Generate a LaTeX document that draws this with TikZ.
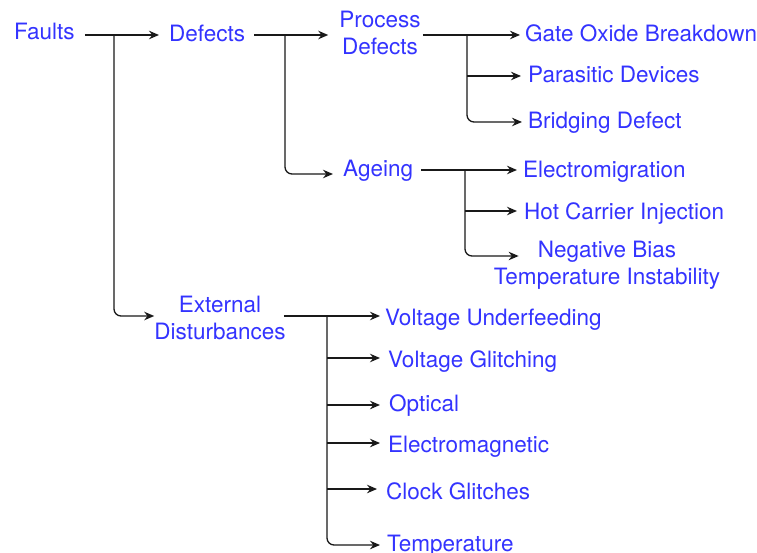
\documentclass[tikz,border=0pt]{standalone}
\usepackage{fontspec}
\setmainfont{TeX Gyre Heros}
\usetikzlibrary{arrows.meta}
\definecolor{labelblue}{RGB}{51,51,255}
\definecolor{wire}{RGB}{25,25,25}
\begin{document}
\begin{tikzpicture}[x=1pt,y=-1pt,
  lbl/.style={text=labelblue, font=\fontsize{22.5}{27}\selectfont, inner sep=0pt, anchor=base west},
  lbl2/.style={lbl, align=center, anchor=base},
  link/.style={draw=wire, line width=1.3pt, -{Stealth[length=10pt,width=8.5pt]}, shorten <=8pt, shorten >=6pt},
  branch/.style={link, shorten <=0pt},
  trunk/.style={branch, rounded corners=7pt}]
\useasboundingbox (0,0) rectangle (757,553);

% labels (two-line labels are placed by the baseline of their last line)
\node[lbl]  (faults)    at (14,40)   {Faults};
\node[lbl]  (defects)   at (169,42)  {Defects};
\node[lbl2] (process)   at (380,55)  {Process\\Defects};
\node[lbl]  (ageing)    at (343,177) {Ageing};
\node[lbl2] (external)  at (220,339) {External\\Disturbances};
\node[lbl]  (gate)      at (525,42)  {Gate Oxide Breakdown};
\node[lbl]  (parasitic) at (528,83)  {Parasitic Devices};
\node[lbl]  (bridging)  at (528,129) {Bridging Defect};
\node[lbl]  (electro)   at (523,178) {Electromigration};
\node[lbl]  (hci)       at (524,220) {Hot Carrier Injection};
\node[lbl2] (nbti)      at (607,284) {Negative Bias\\Temperature Instability};
\node[lbl]  (vu)        at (385,325) {Voltage Underfeeding};
\node[lbl]  (vg)        at (388,367) {Voltage Glitching};
\node[lbl]  (optical)   at (389,411) {Optical};
\node[lbl]  (em)        at (388,452) {Electromagnetic};
\node[lbl]  (clock)     at (386,499) {Clock Glitches};
\node[lbl]  (temp)      at (387,551) {Temperature};

% junctions and branch levels
\coordinate (jf) at (114,35);  \coordinate (fx) at (114,316);
\coordinate (jd) at (285,35);  \coordinate (dx) at (285,174);
\coordinate (jp) at (467,35);  \coordinate (p1) at (467,76);  \coordinate (p2) at (467,122);
\coordinate (ja) at (465,170); \coordinate (a1) at (465,211); \coordinate (a2) at (465,256);
\coordinate (je) at (327,316);
\coordinate (e1) at (327,358); \coordinate (e2) at (327,405); \coordinate (e3) at (327,443);
\coordinate (e4) at (327,489); \coordinate (e5) at (327,545);

% Faults
\draw[link, shorten <=10pt, shorten >=10pt] (faults.east |- jf) -- (defects.west |- jf);
\draw[trunk, shorten >=0pt] (jf) |- (external.west |- fx);

% Defects
\draw[link, shorten <=9pt, shorten >=11pt] (defects.east |- jd) -- (process.west |- jd);
\draw[trunk, shorten >=10pt] (jd) |- (ageing.west |- dx);

% Process defects
\draw[link, shorten <=2pt, shorten >=5pt] (process.east |- jp) -- (gate.west |- jp);
\draw[branch, shorten >=7pt] (p1) -- (parasitic.west |- p1);
\draw[trunk, shorten >=6pt] (jp) |- (bridging.west |- p2);

% Ageing
\draw[link, shorten <=8pt, shorten >=6pt] (ageing.east |- ja) -- (electro.west |- ja);
\draw[branch, shorten >=7pt] (a1) -- (hci.west |- a1);
\draw[trunk, shorten >=-25pt] (ja) |- (nbti.west |- a2);

% External disturbances
\draw[link, shorten <=-2pt, shorten >=5pt] (external.east |- je) -- (vu.west |- je);
\draw[branch, shorten >=8pt] (e1) -- (vg.west |- e1);
\draw[branch, shorten >=9pt] (e2) -- (optical.west |- e2);
\draw[branch, shorten >=8pt] (e3) -- (em.west |- e3);
\draw[branch, shorten >=9pt] (e4) -- (clock.west |- e4);
\draw[trunk, shorten >=7pt] (je) |- (temp.west |- e5);
\end{tikzpicture}
\end{document}
